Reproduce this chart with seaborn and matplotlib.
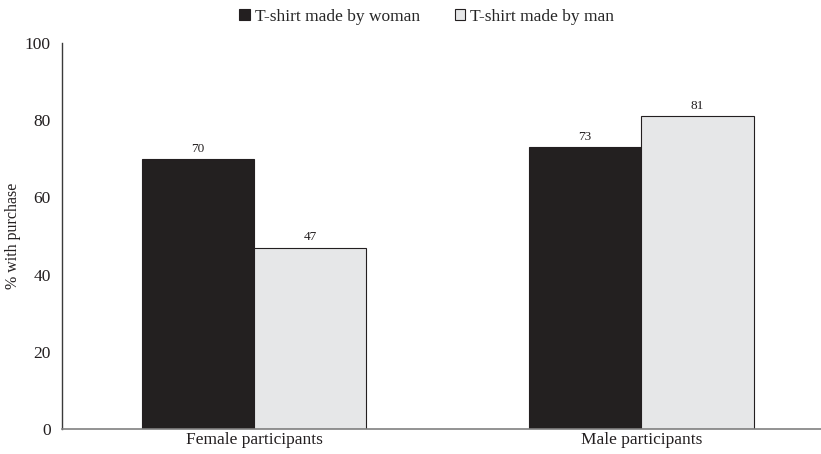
import matplotlib
matplotlib.use("Agg")
import matplotlib.pyplot as plt
import pandas as pd
import seaborn as sns
from matplotlib.patches import Patch

categories = ["Female participants", "Male participants"]
series_names = ["T-shirt made by woman", "T-shirt made by man"]
woman_values = [70, 73]
man_values = [47, 81]
colors = ["#231f20", "#e6e7e8"]

sns.set_theme(style="white")
plt.rcParams["font.family"] = ["Liberation Serif", "DejaVu Serif"]

df = pd.DataFrame({
    "group": categories * 2,
    "series": [series_names[0]] * 2 + [series_names[1]] * 2,
    "value": woman_values + man_values,
})

fig = plt.figure(figsize=(8.21, 4.54), dpi=100)
ax = fig.add_axes([0.0755, 0.055, 0.924, 0.85])

sns.barplot(data=df, x="group", y="value", hue="series", order=categories,
            hue_order=series_names, palette=colors, width=0.58, gap=0,
            edgecolor="#231f20", linewidth=0.8, ax=ax, legend=False)

for cont in ax.containers:
    ax.bar_label(cont, fmt="%d", padding=3, fontsize=9.5, color="#231f20")

ax.set_xlim(-0.496, 1.463)
ax.set_ylim(0, 100)
ax.set_yticks([0, 20, 40, 60, 80, 100])
ax.set_xlabel("")
ax.set_ylabel("% with purchase", fontsize=11.5, color="#231f20", labelpad=3)
ax.tick_params(axis="both", labelsize=12.5, colors="#231f20", length=0)
ax.tick_params(axis="x", pad=2)
ax.tick_params(axis="y", pad=8)

for s in ["top", "right"]:
    ax.spines[s].set_visible(False)
ax.spines["left"].set_color("#3a3a3a")
ax.spines["left"].set_linewidth(1.0)
ax.spines["bottom"].set_color("#808080")
ax.spines["bottom"].set_linewidth(1.2)

handles = [Patch(facecolor=c, edgecolor="#231f20", linewidth=0.8) for c in colors]
fig.legend(handles, series_names, loc="upper center", bbox_to_anchor=(0.52, 1.015),
           ncol=2, frameon=False, fontsize=12.5, handlelength=0.6, handleheight=0.6,
           handletextpad=0.3, columnspacing=2.0)

fig.savefig("out.png", dpi=100)
